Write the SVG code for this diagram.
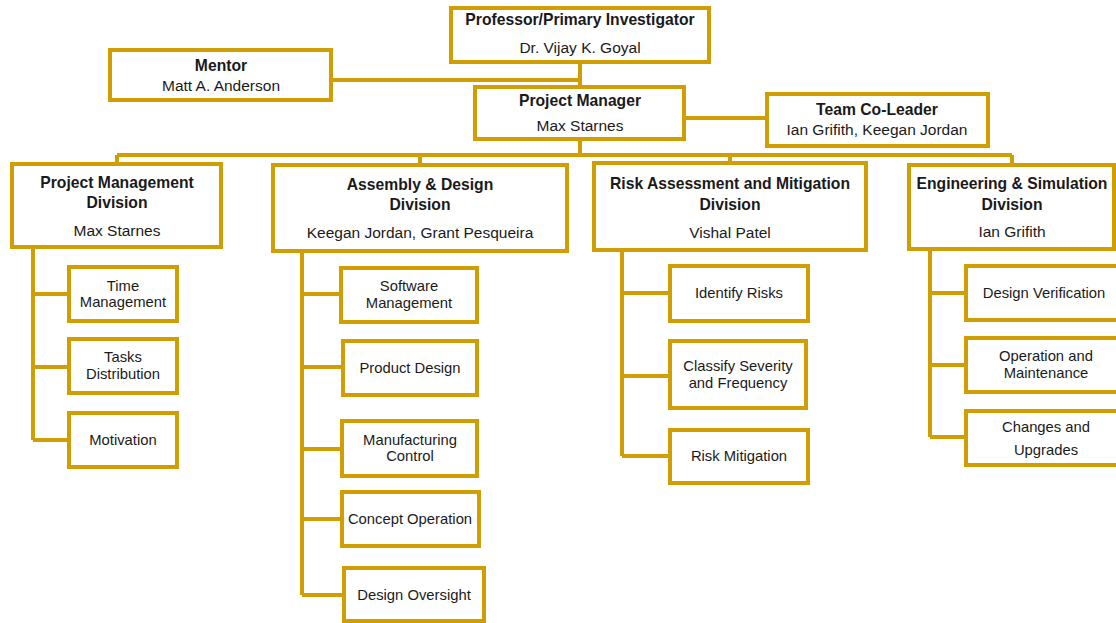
<svg xmlns="http://www.w3.org/2000/svg" width="1116" height="623" viewBox="0 0 1116 623">
<style>
.b{fill:#fff;stroke:#D09E00;stroke-width:4}
.c{fill:none;stroke:#D09E00;stroke-width:4}
text{font-family:"Liberation Sans",Arial,sans-serif;fill:#1a1a1a;text-anchor:middle}
.h{font-weight:bold;font-size:15.7px}
.r{font-size:15.5px}
.s{font-size:14.8px}
</style>
<rect width="1116" height="623" fill="#fff"/>
<g id="connectors" class="c">
<path d="M580 62V87M331 80H580M684 118H767M580 139V155M117 155H1012M117 155V164M420 155V165M730 155V163M1012 155V165"/>
<path d="M33 247V440M33 294H69M33 367H69M33 440H69"/>
<path d="M302 251V595M302 294H341M302 367H343M302 449H342M302 519H342M302 595H344"/>
<path d="M622 250V456M622 293H670M622 376H670M622 456H670"/>
<path d="M930 249V437M930 293H966M930 365H966M930 437H966"/>
</g>
<g id="professor"><rect class="b" x="451" y="8" width="258" height="54"/><text class="h" x="580" y="25">Professor/Primary Investigator</text><text class="r" x="580" y="53">Dr. Vijay K. Goyal</text></g>
<g id="mentor"><rect class="b" x="110" y="50" width="221" height="50"/><text class="h" x="221" y="71">Mentor</text><text class="r" x="221" y="91">Matt A. Anderson</text></g>
<g id="pm"><rect class="b" x="475" y="87" width="209" height="52"/><text class="h" x="580" y="106">Project Manager</text><text class="r" x="580" y="131">Max Starnes</text></g>
<g id="coleader"><rect class="b" x="767" y="94" width="221" height="52"/><text class="h" x="877" y="115">Team Co-Leader</text><text class="r" x="877" y="135">Ian Grifith, Keegan Jordan</text></g>
<g id="pmd"><rect class="b" x="12" y="164" width="209" height="83"/><text class="h" x="117" y="188">Project Management</text><text class="h" x="117" y="208">Division</text><text class="r" x="117" y="236">Max Starnes</text></g>
<g id="ad"><rect class="b" x="273" y="165" width="294" height="86"/><text class="h" x="420" y="190">Assembly &amp; Design</text><text class="h" x="420" y="210">Division</text><text class="r" x="420" y="238">Keegan Jordan, Grant Pesqueira</text></g>
<g id="risk"><rect class="b" x="594" y="163" width="272" height="87"/><text class="h" x="730" y="189">Risk Assessment and Mitigation</text><text class="h" x="730" y="210">Division</text><text class="r" x="730" y="238">Vishal Patel</text></g>
<g id="es"><rect class="b" x="909" y="165" width="205" height="84"/><text class="h" x="1012" y="189">Engineering &amp; Simulation</text><text class="h" x="1012" y="210">Division</text><text class="r" x="1012" y="237">Ian Grifith</text></g>
<g id="time"><rect class="b" x="69" y="267" width="108" height="54"/><text class="s" x="123" y="291">Time</text><text class="s" x="123" y="307">Management</text></g>
<g id="tasks"><rect class="b" x="69" y="339" width="108" height="54"/><text class="s" x="123" y="362">Tasks</text><text class="s" x="123" y="379">Distribution</text></g>
<g id="motivation"><rect class="b" x="69" y="413" width="108" height="54"/><text class="s" x="123" y="445">Motivation</text></g>
<g id="software"><rect class="b" x="341" y="268" width="136" height="54"/><text class="s" x="409" y="291">Software</text><text class="s" x="409" y="308">Management</text></g>
<g id="product"><rect class="b" x="343" y="341" width="134" height="54"/><text class="s" x="410" y="373">Product Design</text></g>
<g id="manufacturing"><rect class="b" x="342" y="421" width="135" height="55"/><text class="s" x="410" y="445">Manufacturing</text><text class="s" x="410" y="461">Control</text></g>
<g id="concept"><rect class="b" x="342" y="492" width="137" height="54"/><text class="s" x="410" y="524">Concept Operation</text></g>
<g id="oversight"><rect class="b" x="344" y="568" width="140" height="53"/><text class="s" x="414" y="600">Design Oversight</text></g>
<g id="identify"><rect class="b" x="670" y="266" width="138" height="55"/><text class="s" x="739" y="298">Identify Risks</text></g>
<g id="classify"><rect class="b" x="670" y="341" width="136" height="67"/><text class="s" x="738" y="371">Classify Severity</text><text class="s" x="738" y="388">and Frequency</text></g>
<g id="mitigation"><rect class="b" x="670" y="430" width="138" height="53"/><text class="s" x="739" y="461">Risk Mitigation</text></g>
<g id="verification"><rect class="b" x="966" y="266" width="152" height="54"/><text class="s" x="1044" y="298">Design Verification</text></g>
<g id="operation"><rect class="b" x="966" y="338" width="152" height="54"/><text class="s" x="1046" y="361">Operation and</text><text class="s" x="1046" y="378">Maintenance</text></g>
<g id="changes"><rect class="b" x="966" y="411" width="152" height="54"/><text class="s" x="1046" y="432">Changes and</text><text class="s" x="1046" y="455">Upgrades</text></g>
</svg>
